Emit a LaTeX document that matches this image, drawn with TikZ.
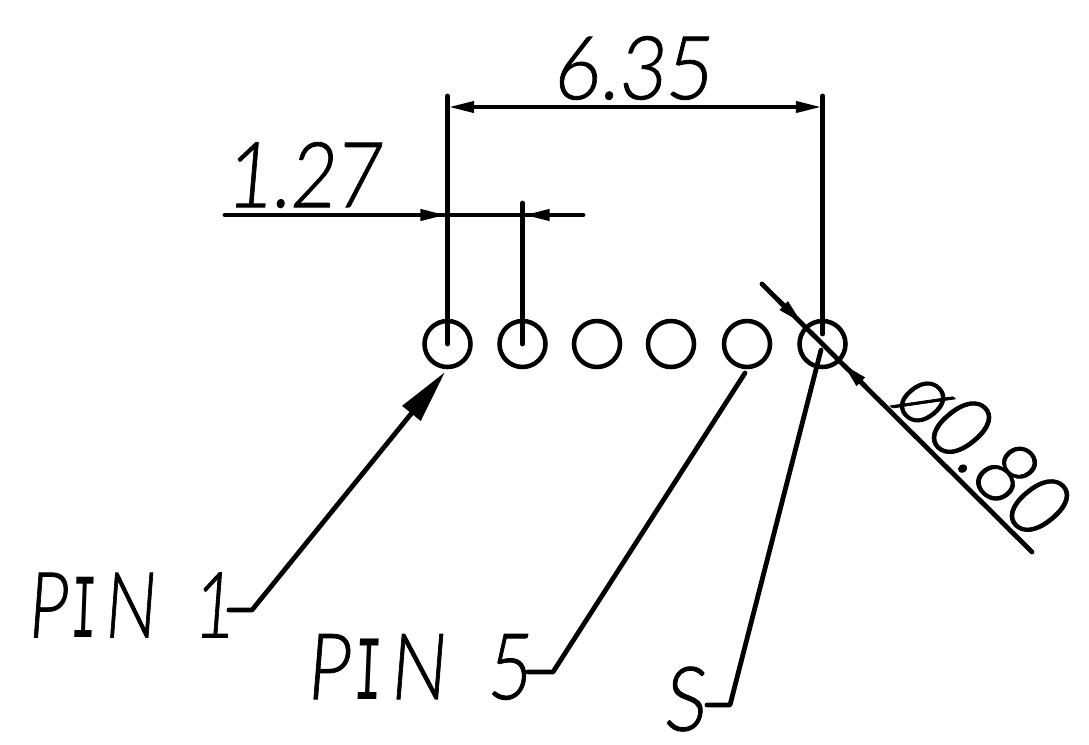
\documentclass[tikz,border=0pt]{standalone}
\usepackage{fontspec}
\usetikzlibrary{arrows.meta}
\setmainfont{Liberation Mono}
\newfontfamily\cadfont[FakeSlant=0.1,FakeBold=0.9]{Lato Light}
\newfontfamily\cadserif[FakeSlant=0.08]{Liberation Mono}
\newcommand{\cadtxt}[3]{\resizebox{#1\dimexpr 0.75pt\relax}{#2\dimexpr 0.75pt\relax}{\cadfont #3}}
\newcommand{\cadpin}{P\hspace{.06em}{\cadserif\scalebox{.62}[1]{I}}\hspace{.1em}N}
\tikzset{
  stroke/.style={line width=3.6pt,line cap=round,line join=round,black},
  hole/.style={circle,draw,line width=3.4pt,minimum size=34.5pt,inner sep=0pt,outer sep=0pt},
  label/.style={inner sep=0pt,outer sep=0pt,black},
  thintip/.style={stroke,-{Triangle[length=20pt,width=8pt]}},
  bigtip/.style={stroke,-{Triangle[length=40pt,width=17pt]}}
}
\begin{document}
\begin{tikzpicture}[x=0.75pt,y=-0.75pt]
\useasboundingbox (0,0) rectangle (1089,744);
% pin holes
\node[hole] (p1) at (447.5,344) {};
\node[hole] (p2) at (522.5,344) {};
\node[hole] (p3) at (597,344) {};
\node[hole] (p4) at (671,344) {};
\node[hole] (p5) at (747,344) {};
\node[hole] (p6) at (822.5,344) {};
% free ends
\coordinate (e1) at (447.5,96);
\coordinate (e6) at (822.5,96);
\coordinate (e2) at (522.5,203);
\coordinate (d1) at (447.5,107);
\coordinate (d6) at (822.5,107);
\coordinate (w1) at (225,215);
\coordinate (w2) at (583,215);
\coordinate (w1t) at (447,215);
\coordinate (w1a) at (414,215);
\coordinate (w2t) at (523,215);
\coordinate (w2a) at (556,215);
\coordinate (q1) at (762,284);
\coordinate (q2) at (1032,552);
\coordinate (q1t) at (803,324);
\coordinate (q1a) at (780,302);
\coordinate (q2t) at (842,363);
\coordinate (q2a) at (865,386);
\coordinate (e6b) at (822.5,334);
% labels
\node[label] (t635) at (632,68) {\cadtxt{158}{63}{6.35}};
\node[label] (t127) at (303,175) {\cadtxt{154}{65}{1.27}};
\node[label] (tp1) at (130,605) {\cadtxt{206}{65}{\cadpin\hspace{.55em}1}};
\node[label] (tp5) at (418,667) {\cadtxt{224}{65}{\cadpin\hspace{.55em}5}};
\node[label] (ts) at (684,699) {\cadtxt{42}{64}{S}};
\node[label,rotate=-45] (td) at (982,450) {\cadtxt{200}{64}{ø0.80}};
% leader kinks
\coordinate (k1s) at (229,610);
\coordinate (k1) at (252,610);
\coordinate (k1t) at (445,372);
\coordinate (k5s) at (528,672);
\coordinate (k5) at (553,672);
\coordinate (k5t) at (745,373);
\coordinate (ksS) at (707,705);
\coordinate (kS) at (730,705);
\coordinate (kSt) at (821,350);
% extension lines
\draw[stroke] (e1) -- (p1.center);
\draw[stroke] (e2) -- (p2.center);
\draw[stroke] (e6) -- (e6b);
% dimensions
\draw[stroke,{Triangle[length=20pt,width=8pt]}-{Triangle[length=20pt,width=8pt]}] (d1) -- (d6);
\draw[stroke] (w1) -- (w2);
\draw[thintip] (w1a) -- (w1t);
\draw[thintip] (w2a) -- (w2t);
\draw[stroke] (q1) -- (q2);
\draw[thintip] (q1a) -- (q1t);
\draw[thintip] (q2a) -- (q2t);
% leaders
\draw[bigtip] (k1s) -- (k1) -- (k1t);
\draw[stroke] (k5s) -- (k5) -- (k5t);
\draw[stroke] (ksS) -- (kS) -- (kSt);
\end{tikzpicture}
\end{document}
